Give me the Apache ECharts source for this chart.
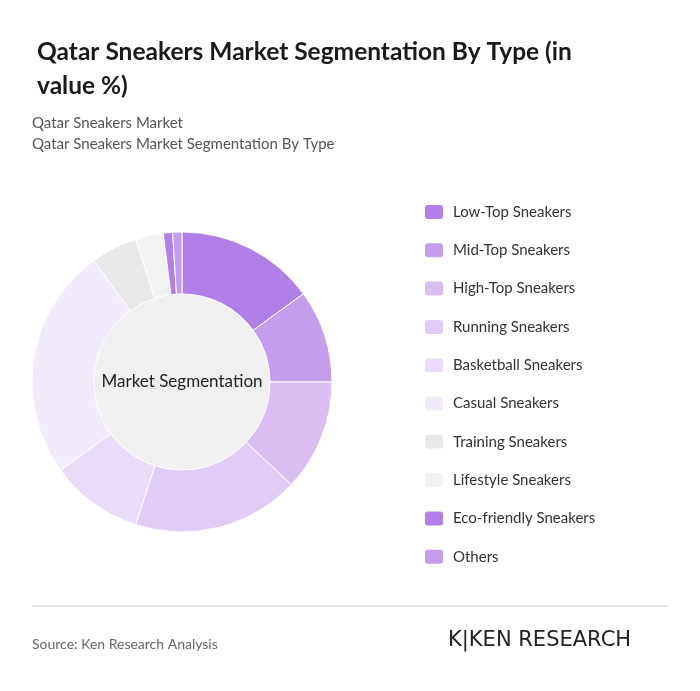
<!DOCTYPE html>
<html><head><meta charset="utf-8">
<script src="https://cdn.jsdelivr.net/npm/echarts@6/dist/echarts.min.js"></script>
<style>html,body{margin:0;padding:0;background:#fff}#c{width:700px;height:691px}</style>
</head><body><div id="c"></div>
<script>
const categories=["Low-Top Sneakers","Mid-Top Sneakers","High-Top Sneakers","Running Sneakers","Basketball Sneakers","Casual Sneakers","Training Sneakers","Lifestyle Sneakers","Eco-friendly Sneakers","Others"];
const values=[15,10,12,18,10,25,5,3,1,1];
const colors=["#b07fe8","#c49dec","#d9bdf3","#e1ccf6","#eadcf8","#f2ebfb","#e8e8e8","#f2f2f2","#b07fe8","#c49dec"];
const F="Lato, 'Open Sans', sans-serif";
const chart=echarts.init(document.getElementById('c'));
chart.setOption({
  animation:false,
  title:{text:"Qatar Sneakers Market Segmentation By Type (in\nvalue %)",left:32,top:30,textStyle:{fontFamily:F,fontSize:24.5,fontWeight:'bold',color:'#1a1a1a',lineHeight:34}},
  legend:{orient:'vertical',left:418,top:198,itemWidth:20,itemHeight:16,itemGap:20.3,icon:'roundRect',
    textStyle:{fontFamily:F,fontSize:15,color:'#333',padding:[0,0,0,4]},data:categories},
  graphic:[
    {type:'text',left:32,top:113,style:{text:"Qatar Sneakers Market\nQatar Sneakers Market Segmentation By Type",font:"15px "+F,fill:'#555',lineHeight:21}},
    {type:'circle',shape:{cx:182,cy:382,r:88},style:{fill:'#f0f0f0'},z:-1},
    {type:'text',x:182,y:382,style:{text:"Market Segmentation",font:"17px "+F,fill:'#222',align:'center',verticalAlign:'middle'},z:10},
    {type:'line',shape:{x1:32,y1:606,x2:668,y2:606},style:{stroke:'#ccc',lineWidth:1}},
    {type:'text',left:32,top:637,style:{text:"Source: Ken Research Analysis",font:"14px "+F,fill:'#666'}},
    {type:'text',left:448,top:630,style:{text:"K|KEN RESEARCH",font:"21px 'DejaVu Sans', sans-serif",fill:'#222'}}
  ],
  series:[{type:'pie',center:[182,382],radius:[88,150],startAngle:90,clockwise:true,
    label:{show:false},labelLine:{show:false},emphasis:{disabled:true},
    itemStyle:{borderColor:'#fff',borderWidth:1},
    data:categories.map((n,i)=>({name:n,value:values[i],itemStyle:{color:colors[i]}}))}]
});
</script></body></html>
